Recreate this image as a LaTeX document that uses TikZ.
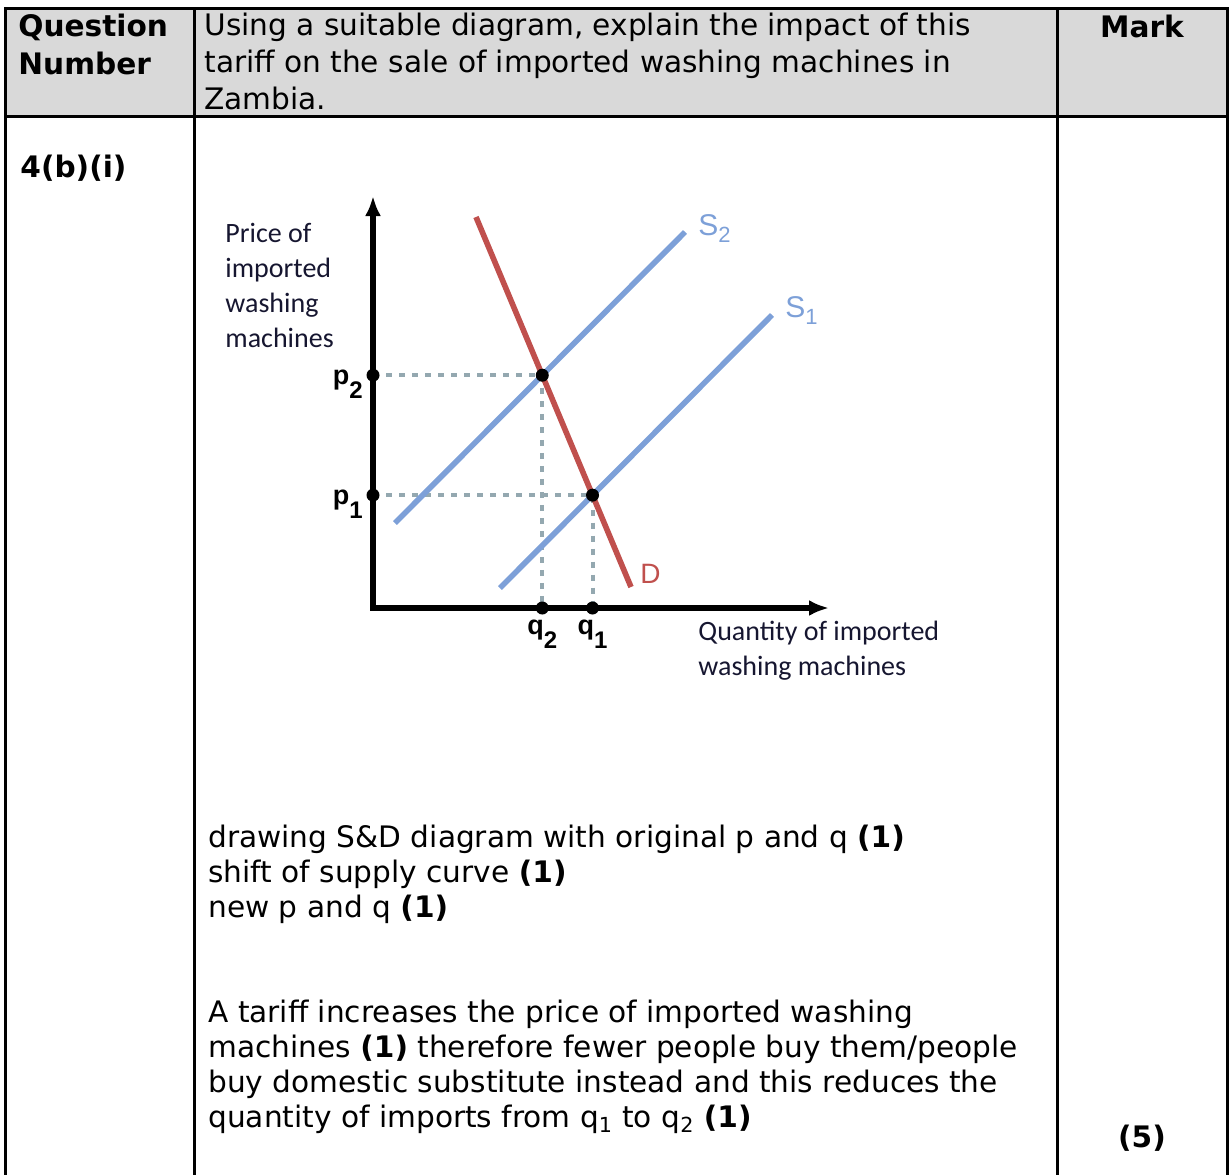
\documentclass[tikz,border=0pt]{standalone}
\usepackage{fontspec}
\setmainfont{DejaVu Sans}
\newfontfamily\calfont{Carlito}
\newfontfamily\arialfont{Liberation Sans}
\usetikzlibrary{arrows.meta,intersections}
\definecolor{hdrgray}{RGB}{217,217,217}
\definecolor{supblue}{RGB}{125,160,216}
\definecolor{demred}{RGB}{192,80,77}
\definecolor{guidegray}{RGB}{148,168,176}
\definecolor{labnavy}{RGB}{22,22,48}
\newcommand\pqsub[1]{\raisebox{-7pt}{\fontsize{12}{12}\selectfont #1}}
\newcommand\ssub[1]{\raisebox{-3.5pt}{\fontsize{11}{11}\selectfont #1}}

\begin{document}
\begin{tikzpicture}[x=0.5pt, y=-0.5pt,
    rule/.style={line width=1.5pt, line cap=rect},
    txt/.style={anchor=base west, align=left, inner sep=0pt, font=\fontsize{14.8}{18.3}\selectfont},
    boldtxt/.style={txt, font=\bfseries\fontsize{14.8}{18.8}\selectfont},
    answer/.style={txt, font=\fontsize{14.8}{17.5}\selectfont},
    axis/.style={line width=2.8pt, line join=miter, {Latex[length=10pt,width=8pt]}-{Latex[length=10pt,width=8pt]}},
    supply/.style={supblue, line width=2.8pt},
    demand/.style={demred, line width=2.8pt},
    guide/.style={guidegray, line width=2pt, dash pattern=on 3pt off 3.5pt},
    eqdot/.style={circle, fill=black, inner sep=0pt, minimum size=6.5pt},
    pq/.style={inner sep=0pt, font=\arialfont\bfseries\fontsize{13.5}{13.5}\selectfont},
    curvelab/.style={anchor=base west, inner sep=0pt, font=\arialfont\fontsize{15}{15}\selectfont},
    axlab/.style={anchor=base west, align=left, inner sep=0pt, text=labnavy, font=\calfont\fontsize{14}{17.5}\selectfont},
  ]
  \useasboundingbox (0,0) rectangle (1229,1174);

  % table
  \fill[hdrgray] (5,8) rectangle (1227,116);
  \foreach \x in {5, 194, 1057, 1227} {
      \draw[rule] (\x,8) -- (\x,1180);
  }
  \draw[rule] (5,8) -- (1227,8);
  \draw[rule] (5,116) -- (1227,116);

  % anchors of multi-line nodes sit on their last baseline
  \node[boldtxt] (qnum) at (18,74) {Question\\Number};
  \node[txt] (qtext) at (204,109) {Using a suitable diagram, explain the impact of this\\tariff on the sale of imported washing machines in\\Zambia.};
  \node[boldtxt, anchor=base] (mark) at (1142,37) {Mark};
  \node[boldtxt] (qno) at (20,177) {4(b)(i)};

  % diagram
  \coordinate (O) at (373,608);
  \coordinate (ytop) at (373,196);
  \coordinate (xend) at (829,608);
  \coordinate (Dtop) at (476,217);
  \coordinate (Dbot) at (631,587);
  \coordinate (S2lo) at (395,523);
  \coordinate (S2hi) at (685,232);
  \coordinate (S1lo) at (500,588);
  \coordinate (S1hi) at (772,315);

  \path[name path=dline] (Dtop) -- (Dbot);
  \path[name path=sone] (S1lo) -- (S1hi);
  \path[name path=stwo] (S2lo) -- (S2hi);
  \path[name intersections={of=dline and stwo, by=E2}];
  \path[name intersections={of=dline and sone, by=E1}];
  \coordinate (P2) at (E2 -| O);
  \coordinate (P1) at (E1 -| O);
  \coordinate (Q2) at (E2 |- O);
  \coordinate (Q1) at (E1 |- O);

  \draw[guide] (P2) -- (E2) -- (Q2);
  \draw[guide] (P1) -- (E1) -- (Q1);

  \draw[axis] (ytop) -- (O) -- (xend);
  \draw[supply] (S2lo) -- (S2hi);
  \draw[supply] (S1lo) -- (S1hi);
  \draw[demand] (Dtop) -- (Dbot);

  \foreach \pt in {E1, E2, P1, P2, Q1, Q2} {
      \node[eqdot] (dot\pt) at (\pt) {};
  }

  \node[pq, anchor=base east] (p2lab) at ([xshift=-5pt, yshift=-4.5pt]P2) {p\pqsub{2}};
  \node[pq, anchor=base east] (p1lab) at ([xshift=-5pt, yshift=-4.5pt]P1) {p\pqsub{1}};
  \node[pq, anchor=base] (q2lab) at ([yshift=-13pt]Q2) {q\pqsub{2}};
  \node[pq, anchor=base] (q1lab) at ([yshift=-13pt]Q1) {q\pqsub{1}};

  \node[curvelab, text=supblue] (s2lab) at ([xshift=6.5pt, yshift=-1.5pt]S2hi) {S\ssub{2}};
  \node[curvelab, text=supblue] (s1lab) at ([xshift=6.5pt, yshift=-1pt]S1hi) {S\ssub{1}};
  \node[curvelab, text=demred, font=\arialfont\fontsize{14}{14}\selectfont] (dlab) at ([xshift=4.5pt, yshift=2pt]Dbot) {D};

  \node[axlab] (ylab) at (225,347) {Price of\\imported\\washing\\machines};
  \node[axlab] (xlab) at (698,675) {Quantity of imported\\washing machines};

  % mark scheme
  \node[answer] (crit) at (208,917) {drawing S\&D diagram with original p and q \textbf{(1)}\\shift of supply curve \textbf{(1)}\\new p and q \textbf{(1)}};
  \node[answer] (expl) at (208,1127) {A tariff increases the price of imported washing\\machines \textbf{(1)} therefore fewer people buy them/people\\buy domestic substitute instead and this reduces the\\quantity of imports from q\textsubscript{1} to q\textsubscript{2} \textbf{(1)}};
  \node[boldtxt, anchor=base] (marks) at (1142,1147) {(5)};
\end{tikzpicture}
\end{document}
